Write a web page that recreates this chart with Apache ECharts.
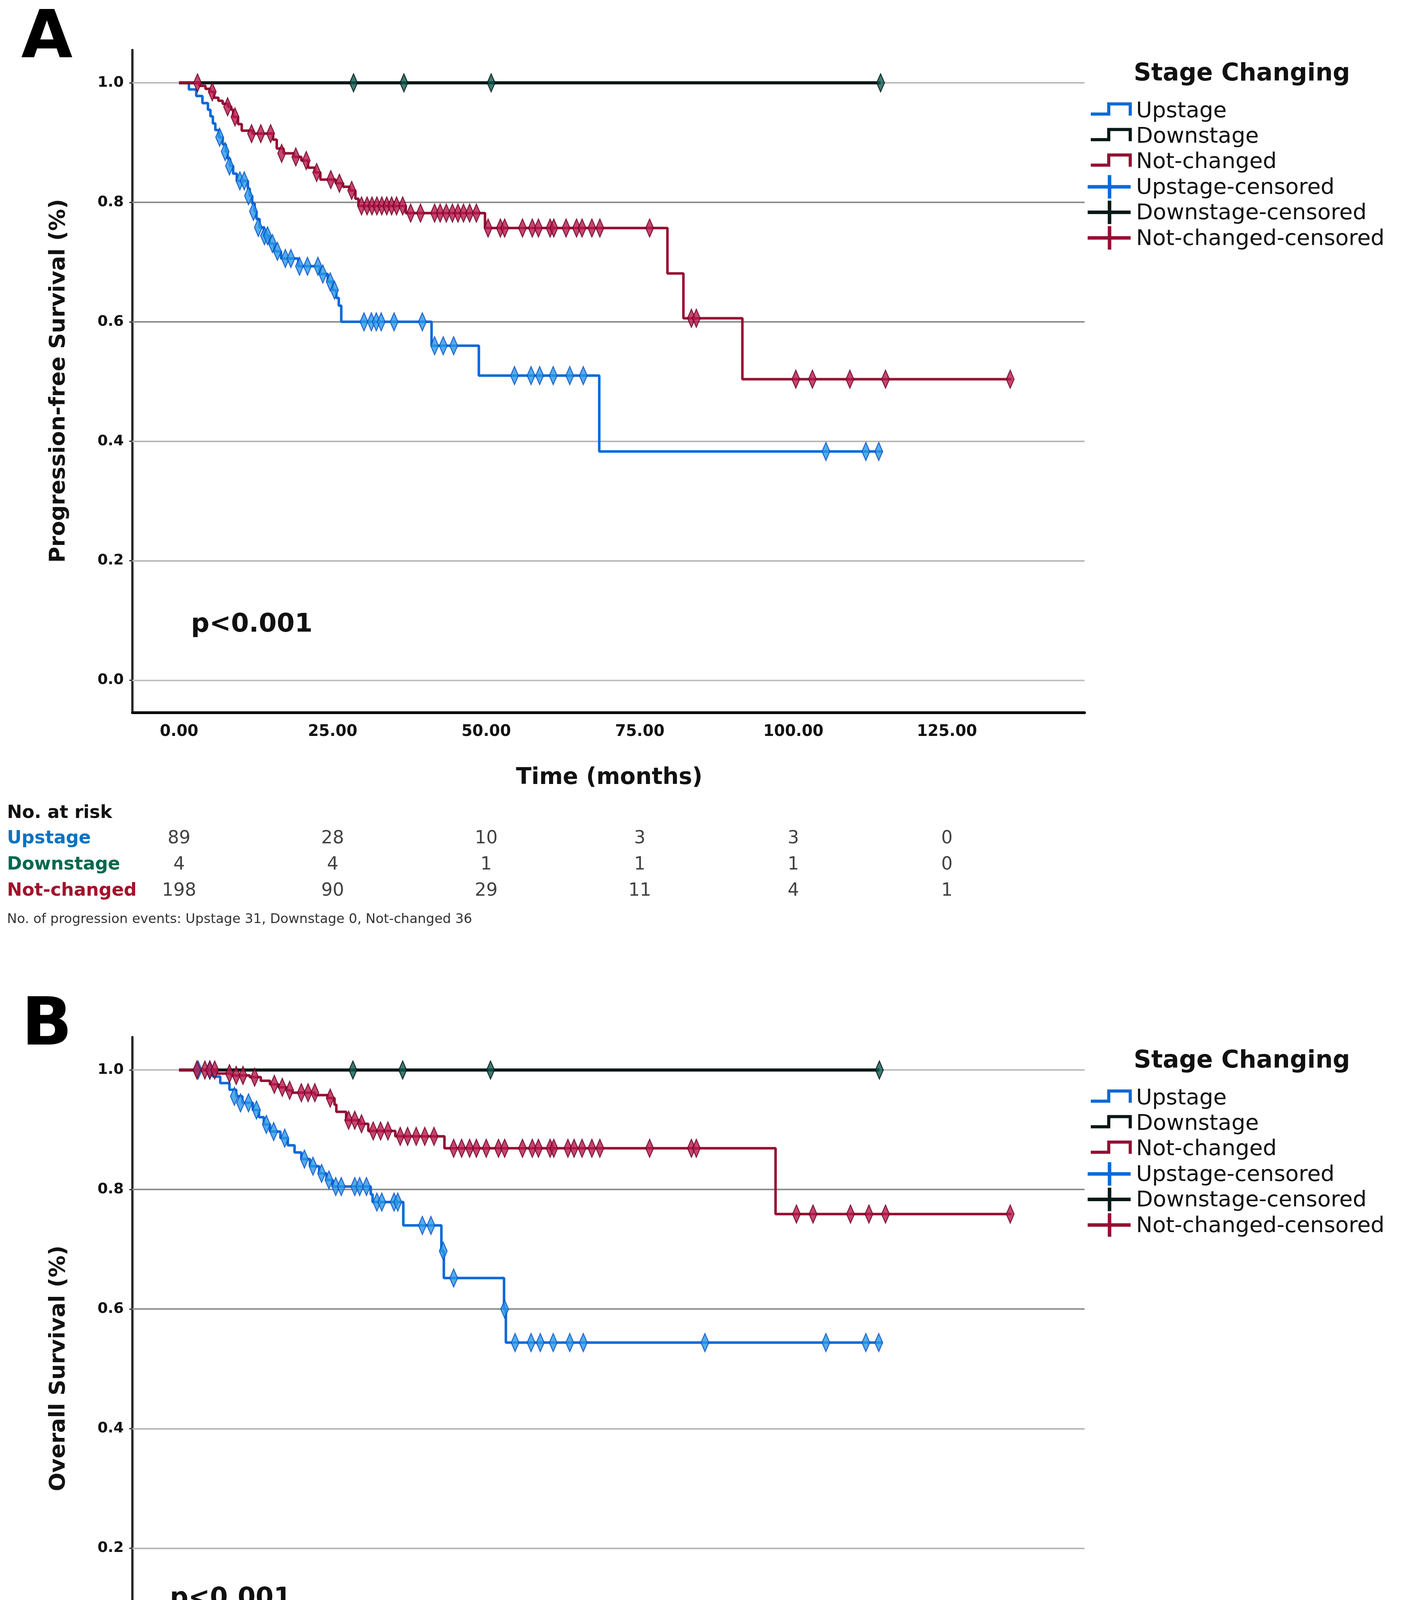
<!DOCTYPE html>
<html>
<head>
<meta charset="utf-8">
<script src="https://cdn.jsdelivr.net/npm/echarts@6/dist/echarts.min.js"></script>
<style>
  html, body { margin: 0; padding: 0; background: #fff; }
  #km { width: 3595px; height: 4931px; }
</style>
</head>
<body>
<div id="km"></div>
<script>
// tick values / categories
var timeTicks = [0, 25, 50, 75, 100, 125];
var survTicks = [0, 0.2, 0.4, 0.6, 0.8, 1.0];
var groups = ['Upstage', 'Downstage', 'Not-changed'];

// no. at risk
var pfsRiskUp = [89, 28, 10, 3, 3, 0];
var pfsRiskDown = [4, 4, 1, 1, 1, 0];
var pfsRiskNot = [198, 90, 29, 11, 4, 1];
var osRiskUp = [89, 37, 13, 4, 3, 0];
var osRiskDown = [4, 4, 1, 1, 1, 0];
var osRiskNot = [198, 97, 34, 11, 6, 1];

// panel A: progression-free survival, step points [month, survival]
var pfsUp = [[0,1.0],[1.6,0.989],[2.8,0.978],[3.8,0.966],[4.7,0.955],[5.1,0.944],[5.5,0.932],[5.9,0.921],[6.5,0.909],[7.1,0.897],[7.6,0.885],[7.9,0.873],[8.3,0.861],[8.8,0.848],[9.4,0.836],[11.2,0.823],[11.5,0.811],[11.9,0.798],[12.3,0.785],[12.6,0.772],[13.1,0.758],[13.8,0.744],[14.7,0.731],[15.5,0.718],[16.6,0.706],[19.4,0.693],[22.9,0.68],[24.2,0.667],[25.0,0.653],[25.6,0.64],[26.0,0.627],[26.4,0.6],[41.1,0.56],[48.8,0.51],[68.4,0.383],[114.5,0.383]];
var pfsUpCens = [[6.6,0.909],[7.5,0.885],[8.2,0.861],[9.9,0.836],[10.6,0.836],[11.3,0.811],[12.1,0.785],[12.9,0.758],[13.9,0.744],[14.4,0.744],[15.2,0.731],[16.0,0.718],[17.3,0.706],[18.2,0.706],[19.6,0.693],[20.9,0.693],[22.6,0.693],[23.4,0.68],[24.6,0.667],[25.3,0.653],[30.1,0.6],[31.3,0.6],[32.1,0.6],[32.9,0.6],[35.0,0.6],[39.6,0.6],[41.6,0.56],[43.0,0.56],[44.7,0.56],[54.6,0.51],[57.3,0.51],[58.7,0.51],[60.9,0.51],[63.6,0.51],[65.8,0.51],[105.3,0.383],[111.8,0.383],[113.9,0.383]];
var pfsDown = [[0,1.0],[114.2,1.0]];
var pfsDownCens = [[28.4,1.0],[36.6,1.0],[50.8,1.0],[114.2,1.0]];
var pfsNot = [[0,1.0],[3.3,0.995],[4.3,0.99],[5.0,0.985],[5.7,0.975],[6.4,0.97],[7.1,0.965],[8.0,0.96],[8.5,0.955],[8.8,0.943],[9.6,0.931],[10.2,0.92],[12.0,0.915],[15.3,0.905],[15.9,0.89],[17.0,0.882],[18.7,0.876],[19.9,0.87],[21.0,0.858],[22.1,0.85],[23.0,0.838],[25.5,0.832],[26.7,0.826],[27.8,0.82],[28.7,0.806],[29.2,0.794],[36.9,0.782],[49.8,0.757],[79.5,0.681],[82.1,0.606],[91.7,0.504],[135.5,0.504]];
var pfsNotCens = [[3.0,1.0],[5.4,0.985],[7.9,0.96],[9.1,0.943],[11.8,0.915],[13.3,0.915],[14.9,0.915],[16.7,0.882],[19.0,0.876],[20.7,0.87],[22.4,0.85],[24.7,0.838],[26.1,0.832],[28.1,0.82],[29.7,0.794],[30.6,0.794],[31.4,0.794],[32.2,0.794],[33.0,0.794],[33.8,0.794],[34.6,0.794],[35.4,0.794],[36.4,0.794],[37.7,0.782],[39.3,0.782],[41.6,0.782],[42.5,0.782],[43.5,0.782],[44.5,0.782],[45.4,0.782],[46.3,0.782],[47.3,0.782],[48.4,0.782],[50.3,0.757],[52.3,0.757],[53.0,0.757],[55.9,0.757],[57.5,0.757],[58.5,0.757],[60.4,0.757],[61.0,0.757],[63.0,0.757],[64.7,0.757],[65.6,0.757],[67.2,0.757],[68.5,0.757],[76.6,0.757],[83.4,0.606],[84.2,0.606],[100.4,0.504],[103.1,0.504],[109.2,0.504],[115.0,0.504],[135.3,0.504]];

// panel B: overall survival
var osUp = [[0,1.0],[5.5,0.989],[6.7,0.978],[8.2,0.967],[9.3,0.956],[10.3,0.945],[12.0,0.933],[13.0,0.921],[13.8,0.909],[14.8,0.897],[16.5,0.886],[17.7,0.874],[18.8,0.862],[19.9,0.851],[21.3,0.839],[22.8,0.827],[24.0,0.816],[25.0,0.805],[31.2,0.792],[31.5,0.779],[36.5,0.74],[42.7,0.697],[43.1,0.652],[52.9,0.6],[53.2,0.544],[114.5,0.544]];
var osUpCens = [[3.1,1.0],[5.0,1.0],[9.0,0.956],[10.0,0.945],[11.3,0.945],[12.6,0.933],[14.2,0.909],[15.4,0.897],[17.2,0.886],[20.4,0.851],[21.8,0.839],[23.2,0.827],[24.4,0.816],[25.5,0.805],[26.4,0.805],[28.6,0.805],[29.4,0.805],[30.5,0.805],[32.2,0.779],[33.0,0.779],[35.0,0.779],[35.6,0.779],[39.6,0.74],[41.0,0.74],[43.0,0.697],[44.7,0.652],[53.0,0.6],[54.7,0.544],[57.3,0.544],[58.8,0.544],[60.9,0.544],[63.6,0.544],[65.8,0.544],[85.6,0.544],[105.3,0.544],[111.8,0.544],[113.9,0.544]];
var osDown = [[0,1.0],[114.0,1.0]];
var osDownCens = [[28.3,1.0],[36.4,1.0],[50.7,1.0],[114.0,1.0]];
var osNot = [[0,1.0],[6.0,0.994],[8.5,0.991],[11.5,0.988],[13.3,0.982],[14.8,0.976],[16.2,0.971],[17.5,0.966],[18.4,0.962],[22.1,0.958],[24.2,0.953],[25.3,0.942],[25.6,0.93],[27.2,0.916],[29.4,0.91],[30.8,0.898],[35.2,0.889],[43.2,0.869],[97.1,0.759],[135.5,0.759]];
var osNotCens = [[2.9,1.0],[4.2,1.0],[5.0,1.0],[5.8,1.0],[8.2,0.994],[9.3,0.991],[10.4,0.991],[12.3,0.988],[15.5,0.976],[16.8,0.971],[18.0,0.966],[19.9,0.962],[21.0,0.962],[22.1,0.962],[24.6,0.953],[27.6,0.916],[28.6,0.916],[29.7,0.91],[31.6,0.898],[32.8,0.898],[34.0,0.898],[36.0,0.889],[37.2,0.889],[38.6,0.889],[40.0,0.889],[41.5,0.889],[44.7,0.869],[46.0,0.869],[47.3,0.869],[48.4,0.869],[50.0,0.869],[52.0,0.869],[53.0,0.869],[55.9,0.869],[57.5,0.869],[58.5,0.869],[60.4,0.869],[61.0,0.869],[63.3,0.869],[64.3,0.869],[65.6,0.869],[67.2,0.869],[68.5,0.869],[76.6,0.869],[83.4,0.869],[84.2,0.869],[100.5,0.759],[103.2,0.759],[109.3,0.759],[112.3,0.759],[115.0,0.759],[135.3,0.759]];

// styles
var FONT = 'DejaVu Sans';
var lineColors = ['#0a6ad8', '#071816', '#960f33'];
var censFill = ['#2898e6', '#0f5a50', '#b8194d'];
var censEdge = ['#0a4fc4', '#021210', '#6a0020'];
var riskColors = ['#0b72c0', '#00684f', '#a3122c'];
var gridColors = ['#c2c2c2', '#b8b8b8', '#b8b8b8', '#8e8e8e', '#8e8e8e', '#bdbdbd'];
var X_MIN = -7.6, X_MAX = 147.4, Y_MIN = -0.054, Y_MAX = 1.055;

var myChart = echarts.init(document.getElementById('km'));

function plotAxes(gi, top, height) {
    var grid = { left: 339, width: 2438, top: top, height: height };
    var x = {
        type: 'value', gridIndex: gi, min: X_MIN, max: X_MAX,
        axisLine: { onZero: false, lineStyle: { color: '#000', width: 7 } },
        axisTick: { show: false },
        splitLine: { show: false },
        axisLabel: {
            customValues: timeTicks, margin: 30,
            formatter: function (v) { return v.toFixed(2); },
            fontFamily: FONT, fontSize: 40, fontWeight: 'bold', color: '#111'
        }
    };
    var y = {
        type: 'value', gridIndex: gi, min: Y_MIN, max: Y_MAX,
        axisLine: { show: true, onZero: false, lineStyle: { color: '#2a2a2a', width: 6 } },
        axisTick: { show: true, customValues: survTicks, length: 8, lineStyle: { color: '#333', width: 3 } },
        splitLine: { show: false },
        axisLabel: {
            customValues: survTicks, margin: 22,
            formatter: function (v) { return v.toFixed(1); },
            fontFamily: FONT, fontSize: 38, fontWeight: 'bold', color: '#111'
        }
    };
    return { grid: grid, x: x, y: y };
}

function riskAxes(gi, top, height) {
    var rich = {};
    groups.forEach(function (g, i) {
        rich['c' + i] = { color: riskColors[i], fontWeight: 'bold', fontSize: 46, fontFamily: FONT };
    });
    return {
        grid: { left: 339, width: 2438, top: top, height: height },
        x: { type: 'value', gridIndex: gi, min: X_MIN, max: X_MAX, show: false },
        y: {
            type: 'category', gridIndex: gi, data: groups, inverse: true,
            axisLine: { show: false }, axisTick: { show: false }, splitLine: { show: false },
            axisLabel: {
                align: 'left', margin: 321,
                formatter: function (v, i) { return '{c' + i + '|' + v + '}'; },
                rich: rich
            }
        }
    };
}

function panelSeries(ax, curves, cens, risk) {
    var rx = ax + 1;
    var out = [];
    // gridlines, kept under the curves
    out.push({
        type: 'line', xAxisIndex: ax, yAxisIndex: ax, data: [[0, 1]], showSymbol: false,
        lineStyle: { width: 0 }, silent: true, z: 1,
        markLine: {
            silent: true, symbol: 'none', label: { show: false }, z: 1,
            data: survTicks.map(function (v, i) {
                return { yAxis: v, lineStyle: { color: gridColors[i], width: 4, type: 'solid' } };
            })
        }
    });
    curves.forEach(function (d, i) {
        out.push({
            name: groups[i], type: 'line', step: 'end', xAxisIndex: ax, yAxisIndex: ax,
            data: d, showSymbol: false, z: 3 + i,
            lineStyle: { color: lineColors[i], width: i === 1 ? 8 : 6.5 }
        });
    });
    cens.forEach(function (d, i) {
        out.push({
            name: groups[i] + '-censored', type: 'scatter', xAxisIndex: ax, yAxisIndex: ax,
            data: d, symbol: 'diamond', symbolSize: [20, 46], z: 7 + i,
            itemStyle: { color: censFill[i], borderColor: censEdge[i], borderWidth: 3 }
        });
    });
    var riskData = [];
    risk.forEach(function (row, gi) {
        row.forEach(function (n, k) { riskData.push([timeTicks[k], gi, n]); });
    });
    out.push({
        type: 'scatter', xAxisIndex: rx, yAxisIndex: rx, data: riskData,
        symbolSize: 1, itemStyle: { color: 'transparent' }, silent: true,
        label: {
            show: true, position: 'inside',
            formatter: function (p) { return p.value[2]; },
            fontFamily: FONT, fontSize: 46, color: '#111'
        }
    });
    return out;
}

function text(x, y, str, size, weight, color, align, rot) {
    return {
        type: 'text', x: x, y: y, rotation: rot || 0, z: 100,
        style: {
            text: str, fontFamily: FONT, fontSize: size, fontWeight: weight,
            fill: color, align: align || 'left', verticalAlign: 'middle'
        }
    };
}

function legendGraphics(dy) {
    var els = [text(3180, 190 + dy, 'Stage Changing', 62, 'bold', '#111', 'center')];
    var labels = ['Upstage', 'Downstage', 'Not-changed', 'Upstage-censored', 'Downstage-censored', 'Not-changed-censored'];
    labels.forEach(function (lab, i) {
        var y = 285 + i * 65.4 + dy;
        var c = i % 3;
        if (i < 3) {
            els.push({
                type: 'polyline', z: 100,
                shape: { points: [[2793, y + 7], [2839, y + 7], [2839, y - 19], [2894, y - 19], [2894, y + 11]] },
                style: { stroke: lineColors[c], lineWidth: 8, fill: null }
            });
        } else {
            els.push({ type: 'line', z: 100, shape: { x1: 2785, y1: y - 3, x2: 2895, y2: y - 3 },
                style: { stroke: lineColors[c], lineWidth: 9 } });
            els.push({ type: 'line', z: 100, shape: { x1: 2841, y1: y - 33, x2: 2841, y2: y + 27 },
                style: { stroke: lineColors[c], lineWidth: 9 } });
        }
        els.push(text(2909, y, lab, 56, 'normal', '#111', 'left'));
    });
    return els;
}

var a = plotAxes(0, 128, 1696), ar = riskAxes(1, 2114, 201);
var b = plotAxes(2, 2655, 1697), br = riskAxes(3, 4626, 200);

var graphics = []
    .concat(legendGraphics(0), legendGraphics(2527))
    .concat([
        text(120, 103, 'A', 170, 900, '#000', 'center'),
        text(120, 2630, 'B', 170, 900, '#000', 'center'),
        text(150, 975, 'Progression-free Survival (%)', 56, 'bold', '#111', 'center', Math.PI / 2),
        text(150, 3503, 'Overall Survival (%)', 56, 'bold', '#111', 'center', Math.PI / 2),
        text(1560, 1992, 'Time (months)', 58, 'bold', '#111', 'center'),
        text(1560, 4519, 'Time (months)', 58, 'bold', '#111', 'center'),
        text(489, 1600, 'p<0.001', 66, 'bold', '#111', 'left'),
        text(435, 4093, 'p<0.001', 66, 'bold', '#111', 'left'),
        text(18, 2082, 'No. at risk', 46, 'bold', '#111', 'left'),
        text(18, 4592, 'No. at risk', 46, 'bold', '#111', 'left'),
        text(18, 2354, 'No. of progression events: Upstage 31, Downstage 0, Not-changed 36', 34, 'normal', '#333', 'left'),
        text(18, 4867, 'No. of deaths: Upstage 19, Downstage 0, Not-changed 16', 34, 'normal', '#333', 'left')
    ]);

var option = {
    backgroundColor: '#fff',
    animation: false,
    grid: [a.grid, ar.grid, b.grid, br.grid],
    xAxis: [a.x, ar.x, b.x, br.x],
    yAxis: [a.y, ar.y, b.y, br.y],
    series: []
        .concat(panelSeries(0, [pfsUp, pfsDown, pfsNot], [pfsUpCens, pfsDownCens, pfsNotCens], [pfsRiskUp, pfsRiskDown, pfsRiskNot]))
        .concat(panelSeries(2, [osUp, osDown, osNot], [osUpCens, osDownCens, osNotCens], [osRiskUp, osRiskDown, osRiskNot])),
    graphic: graphics
};

myChart.setOption(option);
</script>
</body>
</html>
